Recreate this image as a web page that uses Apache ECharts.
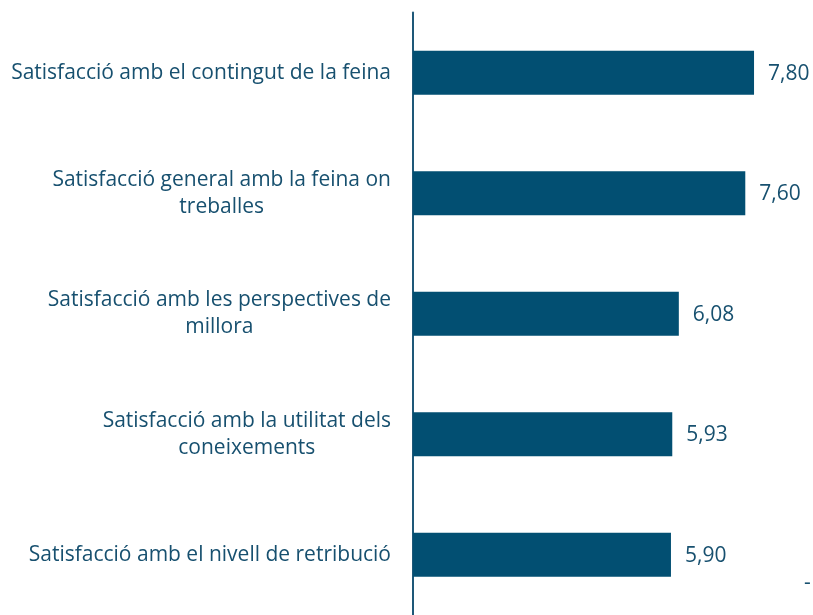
<!DOCTYPE html>
<html><head><meta charset="utf-8">
<script src="https://cdn.jsdelivr.net/npm/echarts@6/dist/echarts.min.js"></script>
<style>html,body{margin:0;padding:0;background:#fff}#c{width:813px;height:615px}</style>
</head><body><div id="c"></div>
<script>
const categories = [
  "Satisfacció amb el contingut de la feina",
  "Satisfacció general amb la feina on\ntreballes",
  "Satisfacció amb les perspectives de\nmillora",
  "Satisfacció amb la utilitat dels\nconeixements",
  "Satisfacció amb el nivell de retribució"
];
const values = [7.80, 7.60, 6.08, 5.93, 5.90];

const textColor = '#17506F';
const barColor = '#024F72';
const font = 'Open Sans';

const chart = echarts.init(document.getElementById('c'));
chart.setOption({
  animation: false,
  grid: { left: 413, top: 12.5, width: 393.5, height: 607, containLabel: false },
  xAxis: {
    type: 'value', min: 0, max: 9,
    show: false
  },
  yAxis: {
    type: 'category', data: categories, inverse: true,
    axisLine: { show: true, lineStyle: { color: '#1E5878', width: 2 } },
    axisTick: { show: false },
    axisLabel: {
      margin: 22, align: 'right',
      fontFamily: font, fontSize: 21, color: textColor, lineHeight: 27,
      formatter: v => v.split('\n').map(s => '{c|' + s + '}').join('\n'),
      rich: { c: { align: 'center', fontFamily: font, fontSize: 21, color: textColor, lineHeight: 27 } }
    }
  },
  series: [{
    type: 'bar', data: values, barWidth: 44,
    itemStyle: { color: barColor },
    label: {
      show: true, position: 'right', distance: 14, offset: [0, 1],
      fontFamily: font, fontSize: 21, color: textColor,
      formatter: p => p.value.toFixed(2).replace('.', ',')
    }
  }],
  graphic: [{
    type: 'text', left: 804, top: 573,
    style: { text: '-', fontFamily: font, fontSize: 21, fill: textColor }
  }]
});
</script></body></html>
